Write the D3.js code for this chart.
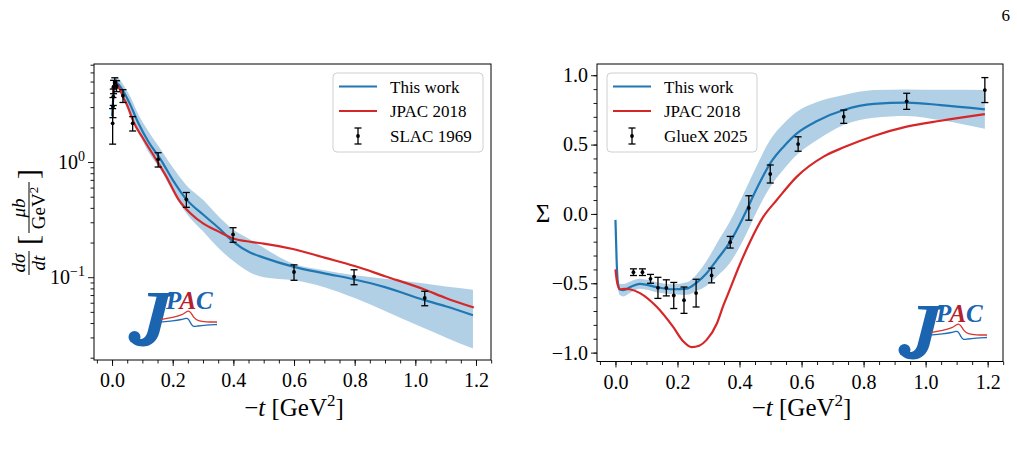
<!DOCTYPE html>
<html>
<head>
<meta charset="utf-8">
<script src="https://cdn.jsdelivr.net/npm/d3@7"></script>
<style>
body { margin: 0; background: #fff; }
svg { font-family: "Liberation Serif", "DejaVu Serif", serif; }
</style>
</head>
<body>
<svg id="fig" width="1017" height="455"></svg>
<script>
//////////////////// data: left panel (dsigma/dt) ////////////////////
var slacT   = [0.002, 0.003, 0.004, 0.005, 0.009, 0.015, 0.036, 0.068, 0.152, 0.245, 0.399, 0.600, 0.798, 1.031];
var slacV   = [2.17, 3.03, 3.70, 4.52, 4.89, 4.58, 3.77, 2.17, 1.055, 0.474, 0.235, 0.111, 0.101, 0.066];
var slacErr = [0.74, 0.6, 0.6, 0.6, 0.5, 0.5, 0.48, 0.31, 0.15, 0.07, 0.034, 0.017, 0.015, 0.0095];

var workT  = [0.0, 0.003, 0.006, 0.01, 0.015, 0.02, 0.03, 0.04, 0.06, 0.087, 0.12, 0.16, 0.2, 0.245, 0.3, 0.35, 0.4, 0.455, 0.5, 0.6, 0.7, 0.8, 0.9, 1.03, 1.1, 1.19];
var workV  = [2.5, 3.3, 4.0, 4.6, 4.85, 4.75, 4.4, 4.0, 3.15, 2.17, 1.5, 1.055, 0.70, 0.474, 0.35, 0.27, 0.203, 0.164, 0.148, 0.123, 0.108, 0.0956, 0.082, 0.0632, 0.056, 0.0468];
var workLo = [2.1, 2.8, 3.5, 4.1, 4.35, 4.3, 3.95, 3.55, 2.7, 1.82, 1.22, 0.86, 0.55, 0.36, 0.25, 0.18, 0.138, 0.11, 0.1, 0.094, 0.082, 0.066, 0.051, 0.036, 0.030, 0.024];
var workHi = [3.0, 3.9, 4.6, 5.2, 5.5, 5.4, 5.0, 4.55, 3.7, 2.58, 1.85, 1.29, 0.9, 0.63, 0.47, 0.34, 0.258, 0.213, 0.18, 0.13, 0.115, 0.104, 0.097, 0.088, 0.083, 0.078];

var jpacT = [0.003, 0.008, 0.015, 0.025, 0.036, 0.05, 0.073, 0.1, 0.145, 0.18, 0.219, 0.26, 0.3, 0.35, 0.4, 0.455, 0.5, 0.6, 0.7, 0.8, 0.9, 1.03, 1.1, 1.193];
var jpacV = [4.0, 4.5, 4.7, 4.3, 3.7, 3.1, 2.17, 1.64, 1.055, 0.74, 0.474, 0.355, 0.293, 0.25, 0.217, 0.203, 0.196, 0.175, 0.148, 0.125, 0.102, 0.0782, 0.066, 0.0545];

//////////////////// data: right panel (Sigma) ////////////////////
var gluexT   = [0.058, 0.087, 0.113, 0.137, 0.164, 0.188, 0.221, 0.26, 0.31, 0.37, 0.43, 0.499, 0.589, 0.736, 0.939, 1.191];
var gluexV   = [-0.42, -0.42, -0.468, -0.533, -0.533, -0.588, -0.622, -0.571, -0.444, -0.204, 0.043, 0.288, 0.504, 0.701, 0.812, 0.893];
var gluexErr = [0.024, 0.024, 0.032, 0.076, 0.058, 0.094, 0.095, 0.1, 0.053, 0.042, 0.088, 0.065, 0.052, 0.048, 0.058, 0.09];

var sigT  = [0.0, 0.004, 0.008, 0.014, 0.025, 0.05, 0.079, 0.133, 0.186, 0.23, 0.262, 0.294, 0.327, 0.37, 0.413, 0.456, 0.499, 0.542, 0.585, 0.65, 0.736, 0.833, 0.939, 1.049, 1.191];
var sigV  = [-0.043, -0.35, -0.5, -0.545, -0.55, -0.525, -0.504, -0.528, -0.543, -0.538, -0.495, -0.428, -0.331, -0.2, -0.019, 0.185, 0.365, 0.485, 0.581, 0.67, 0.749, 0.793, 0.802, 0.785, 0.754];
var sigLo = [-0.048, -0.365, -0.53, -0.585, -0.595, -0.565, -0.54, -0.564, -0.579, -0.583, -0.555, -0.518, -0.451, -0.35, -0.184, 0.02, 0.195, 0.32, 0.426, 0.533, 0.641, 0.693, 0.706, 0.675, 0.614];
var sigHi = [-0.038, -0.335, -0.47, -0.505, -0.505, -0.485, -0.468, -0.492, -0.507, -0.493, -0.435, -0.338, -0.211, -0.05, 0.146, 0.35, 0.535, 0.65, 0.736, 0.807, 0.857, 0.893, 0.898, 0.895, 0.894];

var sigJpacT = [0.0, 0.005, 0.01, 0.016, 0.03, 0.046, 0.079, 0.133, 0.186, 0.219, 0.246, 0.27, 0.294, 0.327, 0.348, 0.366, 0.4, 0.434, 0.477, 0.52, 0.585, 0.671, 0.736, 0.833, 0.939, 1.049, 1.191];
var sigJpacV = [-0.4, -0.49, -0.53, -0.543, -0.54, -0.543, -0.571, -0.67, -0.815, -0.92, -0.96, -0.95, -0.908, -0.79, -0.66, -0.56, -0.37, -0.2, -0.02, 0.1, 0.269, 0.413, 0.48, 0.562, 0.629, 0.672, 0.72];

var xMajor = [0, 0.2, 0.4, 0.6, 0.8, 1.0, 1.2];
var xMinor = d3.range(-0.05, 1.26, 0.05);
var logMajor = [0.1, 1];
var logMinor = [0.02, 0.03, 0.04, 0.05, 0.06, 0.07, 0.08, 0.09, 0.2, 0.3, 0.4, 0.5, 0.6, 0.7, 0.8, 0.9, 2, 3, 4, 5, 6, 7];
var sigMajor = [-1.0, -0.5, 0.0, 0.5, 1.0];
var sigMinor = d3.range(-1.0, 1.05, 0.1);

var legendLeft  = ["This work", "JPAC 2018", "SLAC 1969"];
var legendRight = ["This work", "JPAC 2018", "GlueX 2025"];

var blue = "#1f77b4", red = "#d62728";
var logoBlue = "#1b64b0", logoRed = "#b5202e";

var svg = d3.select("#fig");

//Scales
var xL = d3.scaleLinear().domain([-0.0595, 1.2495]).range([94, 491]);
var yL = d3.scaleLog().domain([0.0191, 7.1]).range([360, 64]);
var xR = d3.scaleLinear().domain([-0.0595, 1.2495]).range([597, 1003]);
var yR = d3.scaleLinear().domain([-1.064, 1.081]).range([361.5, 64]);

function zip(ts, vs) { return ts.map(function(t, i) { return [t, vs[i]]; }); }

//Axes with major and minor ticks
function drawAxes(x, y, yMajor, yMinorV, yFmt) {
  var x0 = x.range()[0], x1 = x.range()[1], y0 = y.range()[0], y1 = y.range()[1];

  var gxm = svg.append("g").attr("transform", "translate(0," + y0 + ")")
    .call(d3.axisBottom(x).tickValues(xMinor).tickSize(3.5).tickFormat(""));
  var gx = svg.append("g").attr("transform", "translate(0," + y0 + ")")
    .call(d3.axisBottom(x).tickValues(xMajor).tickSize(6).tickPadding(7).tickFormat(d3.format(".1f")));
  var gym = svg.append("g").attr("transform", "translate(" + x0 + ",0)")
    .call(d3.axisLeft(y).tickValues(yMinorV).tickSize(3.5).tickFormat(""));
  var gy = svg.append("g").attr("transform", "translate(" + x0 + ",0)")
    .call(d3.axisLeft(y).tickValues(yMajor).tickSize(6).tickPadding(3).tickFormat(yFmt));

  [gxm, gx, gym, gy].forEach(function(g) {
    g.select(".domain").remove();
    g.attr("font-family", null).attr("font-size", 20);
    g.selectAll("line").attr("stroke", "#000").attr("stroke-width", 0.9);
    g.selectAll("text").attr("fill", "#000");
  });

  //frame
  svg.append("rect")
    .attr("x", x0).attr("y", y1)
    .attr("width", x1 - x0).attr("height", y0 - y1)
    .attr("fill", "none").attr("stroke", "#000").attr("stroke-width", 1);
  return gy;
}

function drawBand(x, y, ts, lo, hi) {
  var area = d3.area()
    .x(function(d) { return x(d[0]); })
    .y0(function(d) { return y(d[1]); })
    .y1(function(d) { return y(d[2]); })
    .curve(d3.curveMonotoneX);
  svg.append("path")
    .datum(ts.map(function(t, i) { return [t, lo[i], hi[i]]; }))
    .attr("d", area)
    .attr("fill", blue).attr("fill-opacity", 0.35);
}

function drawCurve(x, y, ts, vs, color) {
  var line = d3.line()
    .x(function(d) { return x(d[0]); })
    .y(function(d) { return y(d[1]); })
    .curve(d3.curveMonotoneX);
  svg.append("path")
    .datum(zip(ts, vs))
    .attr("d", line)
    .attr("fill", "none").attr("stroke", color).attr("stroke-width", 2.2);
}

function drawErrors(x, y, ts, vs, es) {
  var g = svg.append("g").attr("stroke", "#000").attr("stroke-width", 1.3);
  var pts = ts.map(function(t, i) { return { t: t, v: vs[i], e: es[i] }; });
  g.selectAll("line.bar").data(pts).enter().append("line")
    .attr("x1", function(d) { return x(d.t); }).attr("x2", function(d) { return x(d.t); })
    .attr("y1", function(d) { return y(d.v - d.e); }).attr("y2", function(d) { return y(d.v + d.e); });
  g.selectAll("line.lo").data(pts).enter().append("line")
    .attr("x1", function(d) { return x(d.t) - 3.5; }).attr("x2", function(d) { return x(d.t) + 3.5; })
    .attr("y1", function(d) { return y(d.v - d.e); }).attr("y2", function(d) { return y(d.v - d.e); });
  g.selectAll("line.hi").data(pts).enter().append("line")
    .attr("x1", function(d) { return x(d.t) - 3.5; }).attr("x2", function(d) { return x(d.t) + 3.5; })
    .attr("y1", function(d) { return y(d.v + d.e); }).attr("y2", function(d) { return y(d.v + d.e); });
  svg.append("g").selectAll("circle").data(pts).enter().append("circle")
    .attr("cx", function(d) { return x(d.t); })
    .attr("cy", function(d) { return y(d.v); })
    .attr("r", 1.9).attr("fill", "#000");
}

function drawLegend(lx, ly, labels) {
  var g = svg.append("g").attr("transform", "translate(" + lx + "," + ly + ")");
  g.append("rect").attr("x", 0).attr("y", 0).attr("width", 150).attr("height", 79).attr("rx", 4)
    .attr("fill", "#fff").attr("fill-opacity", 0.8).attr("stroke", "#d0d0d0").attr("stroke-width", 1);
  [blue, red].forEach(function(c, i) {
    g.append("line").attr("x1", 6).attr("x2", 44).attr("y1", 13.5 + i * 24.5).attr("y2", 13.5 + i * 24.5)
      .attr("stroke", c).attr("stroke-width", 2.2);
  });
  g.append("line").attr("x1", 25).attr("x2", 25).attr("y1", 55).attr("y2", 71).attr("stroke", "#000").attr("stroke-width", 1.3);
  g.append("line").attr("x1", 21.5).attr("x2", 28.5).attr("y1", 55).attr("y2", 55).attr("stroke", "#000").attr("stroke-width", 1.3);
  g.append("line").attr("x1", 21.5).attr("x2", 28.5).attr("y1", 71).attr("y2", 71).attr("stroke", "#000").attr("stroke-width", 1.3);
  g.append("circle").attr("cx", 25).attr("cy", 63).attr("r", 1.9).attr("fill", "#000");
  g.selectAll("text").data(labels).enter().append("text")
    .attr("x", 57).attr("y", function(d, i) { return 19.5 + i * 24.5; })
    .attr("font-size", 17).attr("fill", "#000")
    .text(function(d) { return d; });
}

//JPAC logo (J drawn as a shape, PAC as text)
var logoJ = "M0,0 L24,0 L23.3,3.2 L20.2,3.8 L11.5,39 C9,49 2,53.5 -5,53.5 C-12,53.5 -17.5,50 -19,45.5 L-9,46 C-4.5,46.5 -1.8,44 -0.2,38 L8.6,3.8 L0.2,3.2 Z";
var logoRedLine  = [[13, 26.5], [25, 24.5], [34, 22], [38, 19], [40.5, 17.5], [43, 19.5], [46, 25], [50, 28], [58, 29], [69, 29]];
var logoBlueLine = [[12, 29], [25, 28], [34, 26.5], [38, 25], [40.5, 25.5], [43, 31], [45.5, 34], [49, 33], [58, 32], [69, 31.5]];
function drawLogo(ox, oy) {
  var g = svg.append("g").attr("transform", "translate(" + ox + "," + oy + ")");
  g.append("path").attr("d", logoJ).attr("fill", logoBlue);
  g.append("circle").attr("cx", -13.5).attr("cy", 44).attr("r", 6).attr("fill", logoBlue);
  var t = g.append("text").attr("x", 18).attr("y", 16).attr("font-size", 25)
    .attr("font-weight", "bold").attr("font-style", "italic");
  t.append("tspan").attr("fill", logoBlue).text("P");
  t.append("tspan").attr("fill", logoRed).text("A");
  t.append("tspan").attr("fill", logoBlue).text("C");
  var ln = d3.line().curve(d3.curveBasis);
  g.append("path").attr("d", ln(logoRedLine)).attr("fill", "none").attr("stroke", "#d8382c").attr("stroke-width", 1.3);
  g.append("path").attr("d", ln(logoBlueLine)).attr("fill", "none").attr("stroke", "#1e6cb8").attr("stroke-width", 1.3);
}

function xLabel(cx) {
  var t = svg.append("text").attr("x", cx).attr("y", 416).attr("text-anchor", "middle")
    .attr("font-size", 25).attr("fill", "#000");
  t.append("tspan").text("\u2212");
  t.append("tspan").attr("font-style", "italic").text("t");
  t.append("tspan").text(" [GeV");
  t.append("tspan").attr("dy", -10).attr("font-size", 17).text("2");
  t.append("tspan").attr("dy", 10).text("]");
}

//////////////////// left panel ////////////////////
var gyL = drawAxes(xL, yL, logMajor, logMinor, function() { return ""; });
gyL.selectAll(".tick text").each(function(d) {
  var t = d3.select(this);
  t.append("tspan").text("10");
  t.append("tspan").attr("dy", "-0.55em").attr("font-size", 14).text(d === 1 ? "0" : "\u22121");
});
drawBand(xL, yL, workT, workLo, workHi);
drawCurve(xL, yL, workT, workV, blue);
drawCurve(xL, yL, jpacT, jpacV, red);
drawErrors(xL, yL, slacT, slacV, slacErr);
drawLegend(333, 73, legendLeft);
drawLogo(148, 293);
xLabel(xL(0.6));

//Y label (rotated fraction)
var yl = svg.append("g").attr("transform", "translate(29,220) rotate(-90)").attr("fill", "#000");
yl.append("text").attr("x", -43).attr("y", -4).attr("text-anchor", "middle").attr("font-size", 19)
  .attr("font-style", "italic").text("d\u03c3");
yl.append("line").attr("x1", -55).attr("x2", -31).attr("y1", 0).attr("y2", 0).attr("stroke", "#000").attr("stroke-width", 1);
yl.append("text").attr("x", -43).attr("y", 16).attr("text-anchor", "middle").attr("font-size", 19)
  .attr("font-style", "italic").text("dt");
yl.append("text").attr("x", -25).attr("y", 9).attr("font-size", 30).attr("font-weight", 300).text("[");
var num = yl.append("text").attr("x", 12).attr("y", -4).attr("text-anchor", "middle").attr("font-size", 19);
num.append("tspan").attr("font-style", "italic").text("\u03bcb");
yl.append("line").attr("x1", -13).attr("x2", 38).attr("y1", 0).attr("y2", 0).attr("stroke", "#000").attr("stroke-width", 1);
var den = yl.append("text").attr("x", 12).attr("y", 16).attr("text-anchor", "middle").attr("font-size", 19);
den.append("tspan").text("GeV");
den.append("tspan").attr("dy", -7).attr("font-size", 13).text("2");
yl.append("text").attr("x", 41).attr("y", 9).attr("font-size", 30).attr("font-weight", 300).text("]");

//////////////////// right panel ////////////////////
drawAxes(xR, yR, sigMajor, sigMinor, function(d) { return d3.format(".1f")(d).replace("-", "\u2212"); });
drawBand(xR, yR, sigT, sigLo, sigHi);
drawCurve(xR, yR, sigT, sigV, blue);
drawCurve(xR, yR, sigJpacT, sigJpacV, red);
drawErrors(xR, yR, gluexT, gluexV, gluexErr);
drawLegend(607, 73, legendRight);
drawLogo(918, 306);
xLabel(xR(0.6));

svg.append("text").attr("x", 543).attr("y", 222).attr("text-anchor", "middle")
  .attr("font-size", 25).attr("fill", "#000").text("\u03a3");

//page number
svg.append("text").attr("x", 1010).attr("y", 21).attr("text-anchor", "end")
  .attr("font-size", 17).attr("fill", "#000").text("6");
</script>
</body>
</html>
